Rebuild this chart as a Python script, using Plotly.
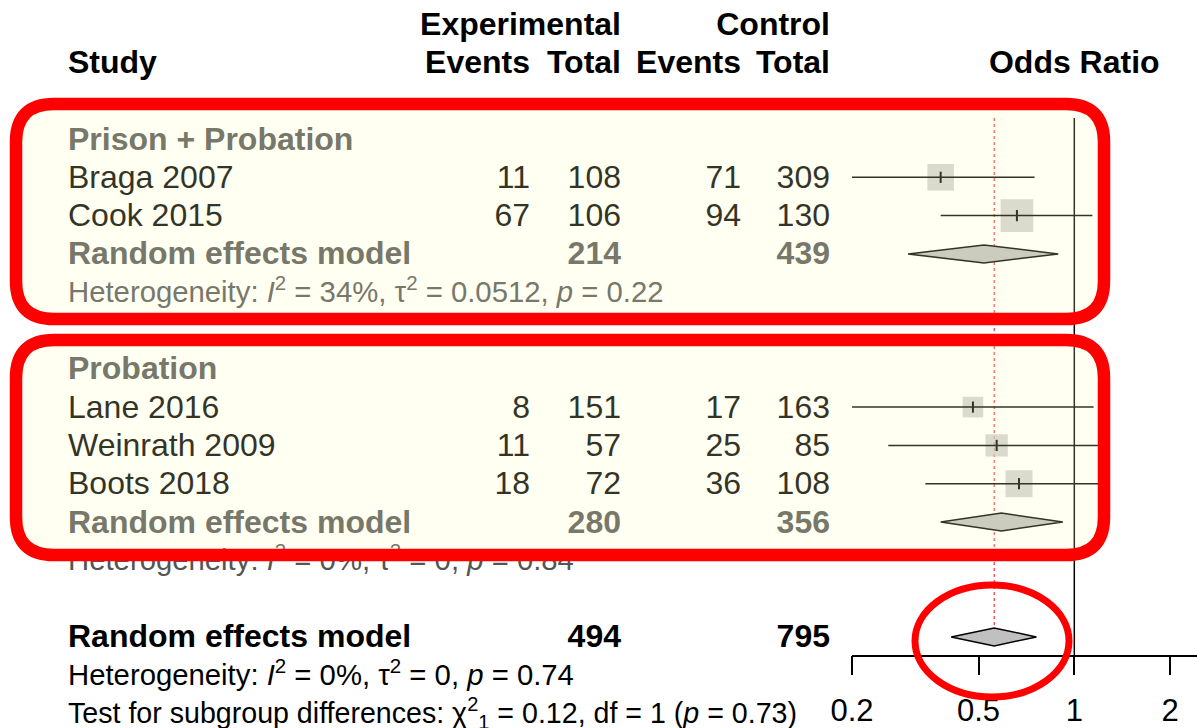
import math
import plotly.graph_objects as go

# ---------------- data ----------------
group_names = ["Prison + Probation", "Probation"]
studies = ["Braga 2007", "Cook 2015", "Lane 2016", "Weinrath 2009", "Boots 2018"]
study_group = [0, 0, 1, 1, 1]
exp_events = [11, 67, 8, 11, 18]
exp_total = [108, 106, 151, 57, 72]
ctrl_events = [71, 94, 17, 25, 36]
ctrl_total = [309, 130, 163, 85, 108]
or_est = [0.38, 0.66, 0.48, 0.57, 0.67]
or_low = [0.19, 0.38, 0.20, 0.26, 0.34]
or_high = [0.75, 1.14, 1.15, 1.28, 1.29]
weights = [20.6, 31.2, 12.4, 14.5, 21.3]

sub_est = [0.52, 0.59]
sub_low = [0.30, 0.38]
sub_high = [0.89, 0.92]
sub_het = [
    "Heterogeneity: <i>I</i><sup>2</sup> = 34%, τ<sup>2</sup> = 0.0512, <i>p</i> = 0.22",
    "Heterogeneity: <i>I</i><sup>2</sup> = 0%, τ<sup>2</sup> = 0, <i>p</i> = 0.84",
]
overall_est, overall_low, overall_high = 0.56, 0.41, 0.76
overall_het = "Heterogeneity: <i>I</i><sup>2</sup> = 0%, τ<sup>2</sup> = 0, <i>p</i> = 0.74"
subgroup_test = "Test for subgroup differences: χ<sup>2</sup><sub>1</sub> = 0.12, df = 1 (<i>p</i> = 0.73)"
model_label = "Random effects model"

tick_vals = [0.2, 0.5, 1, 2]
tick_text = ["0.2", "0.5", "1", "2"]

# ---------------- layout constants ----------------
W, H = 1197, 728
ROW0_PX, ROW_H = 139.0, 38.3
AXIS_PX = 655.7
X1_PX, PX_PER_DEC = 1074.3, 318.0
FONT = "Liberation Sans, Arial, Helvetica, sans-serif"
FS = 32
FS_STAT = 29.3
FS_TEST = 28.6
TXT_DY = 2.5 / ROW_H
GRAY_TXT = "#555555"
SQ_COL = "#BEBEBE"
DIAM_HALF = 9.0 / ROW_H

def px2row(p):
    return (p - ROW0_PX) / ROW_H

# ---------------- row assignment ----------------
study_rows, group_rows, sub_rows, het_rows = [], [], [], []
r = 0
for g in range(len(group_names)):
    group_rows.append(r); r += 1
    for i, sg in enumerate(study_group):
        if sg == g:
            study_rows.append(r); r += 1
    sub_rows.append(r); r += 1
    het_rows.append(r); r += 2
overall_row = r
overall_het_row = overall_row + 1
test_row = overall_row + 2
hdr1, hdr2 = -3, -2

fig = go.Figure()

# reference lines
top_row = px2row(118)
fig.add_trace(go.Scatter(x=[overall_est, overall_est], y=[top_row, overall_row - DIAM_HALF],
                         mode="lines", line=dict(color="#ff3030", width=1.2, dash="dot"),
                         xaxis="x", yaxis="y", hoverinfo="skip", showlegend=False))
fig.add_trace(go.Scatter(x=[1, 1], y=[top_row, px2row(AXIS_PX)], mode="lines",
                         line=dict(color="black", width=1.5),
                         xaxis="x", yaxis="y", hoverinfo="skip", showlegend=False))

# squares
sizes = [5.85 * math.sqrt(w) for w in weights]
fig.add_trace(go.Scatter(x=or_est, y=study_rows, mode="markers",
                         marker=dict(symbol="square", size=sizes, color=SQ_COL, line=dict(width=0)),
                         xaxis="x", yaxis="y", hoverinfo="skip", showlegend=False))
# CI lines
cx, cy = [], []
for lo, hi, rr in zip(or_low, or_high, study_rows):
    cx += [lo, hi, None]; cy += [rr, rr, None]
fig.add_trace(go.Scatter(x=cx, y=cy, mode="lines", line=dict(color="black", width=1.5),
                         xaxis="x", yaxis="y", hoverinfo="skip", showlegend=False))
# point ticks
fig.add_trace(go.Scatter(x=or_est, y=study_rows, mode="markers",
                         marker=dict(symbol="line-ns-open", size=8, color="black",
                                     line=dict(color="black", width=2)),
                         xaxis="x", yaxis="y", hoverinfo="skip", showlegend=False))

# diamonds
def diamond(est, lo, hi, row, fill):
    fig.add_trace(go.Scatter(x=[lo, est, hi, est, lo],
                             y=[row, row - DIAM_HALF, row, row + DIAM_HALF, row],
                             mode="lines", fill="toself", fillcolor=fill,
                             line=dict(color="black", width=1.5),
                             xaxis="x", yaxis="y", hoverinfo="skip", showlegend=False))

for g in range(len(group_names)):
    diamond(sub_est[g], sub_low[g], sub_high[g], sub_rows[g], SQ_COL)
diamond(overall_est, overall_low, overall_high, overall_row, "#C0C0C0")

# ---------------- text ----------------
def text_col(xs, ys, texts, colors, pos, xaxis="x2", size=FS):
    fig.add_trace(go.Scatter(x=xs, y=[y + TXT_DY for y in ys], text=texts, mode="text",
                             textposition=pos,
                             textfont=dict(family=FONT, size=size, color=colors),
                             xaxis=xaxis, yaxis="y", hoverinfo="skip", showlegend=False,
                             cliponaxis=False))

# study column
sx = 68
ys, ts, cs = [hdr2], ["<b>Study</b>"], ["black"]
for g in range(len(group_names)):
    ys.append(group_rows[g]); ts.append("<b>%s</b>" % group_names[g]); cs.append(GRAY_TXT)
    ys.append(sub_rows[g]); ts.append("<b>%s</b>" % model_label); cs.append(GRAY_TXT)
for s, rr in zip(studies, study_rows):
    ys.append(rr); ts.append(s); cs.append("black")
ys.append(overall_row); ts.append("<b>%s</b>" % model_label); cs.append("black")
text_col([sx] * len(ys), ys, ts, cs, "middle right")

# statistics lines (smaller font)
ys = list(het_rows) + [overall_het_row]
ts = list(sub_het) + [overall_het]
cs = [GRAY_TXT] * len(het_rows) + ["black"]
text_col([sx] * len(ys), ys, ts, cs, "middle right", size=FS_STAT)
text_col([sx], [test_row], [subgroup_test], ["black"], "middle right", size=FS_TEST)

# numeric columns (right aligned)
col_right = {"ee": 530, "et": 621, "ce": 741, "ct": 830}

def num_col(key, vals, hdr_lines, totals=None):
    ys, ts, cs = [], [], []
    for rr_, t in hdr_lines:
        ys.append(rr_); ts.append("<b>%s</b>" % t); cs.append("black")
    for v, rr in zip(vals, study_rows):
        ys.append(rr); ts.append(str(v)); cs.append("black")
    if totals is not None:
        for g in range(len(group_names)):
            tot = sum(v for v, sg in zip(totals, study_group) if sg == g)
            ys.append(sub_rows[g]); ts.append("<b>%d</b>" % tot); cs.append(GRAY_TXT)
        ys.append(overall_row); ts.append("<b>%d</b>" % sum(totals)); cs.append("black")
    text_col([col_right[key]] * len(ys), ys, ts, cs, "middle left")

num_col("ee", exp_events, [(hdr2, "Events")])
num_col("et", exp_total, [(hdr1, "Experimental"), (hdr2, "Total")], totals=exp_total)
num_col("ce", ctrl_events, [(hdr2, "Events")])
num_col("ct", ctrl_total, [(hdr1, "Control"), (hdr2, "Total")], totals=ctrl_total)

# Odds Ratio header centred on OR = 1
text_col([1], [hdr2], ["<b>Odds Ratio</b>"], ["black"], "middle center", xaxis="x")

# ---------------- highlight shapes ----------------
def rrect(x0, y0, x1, y1, rad):
    return (f"M {x0+rad},{y0} L {x1-rad},{y0} Q {x1},{y0} {x1},{y0+rad} "
            f"L {x1},{y1-rad} Q {x1},{y1} {x1-rad},{y1} L {x0+rad},{y1} "
            f"Q {x0},{y1} {x0},{y1-rad} L {x0},{y0+rad} Q {x0},{y0} {x0+rad},{y0} Z")

shapes = []
for (y0, y1) in [(104, 319), (340, 555)]:
    shapes.append(dict(type="path", path=rrect(16, y0, 1104, y1, 38), xref="x2", yref="y2",
                       line=dict(color="#ff0000", width=12.5),
                       fillcolor="rgba(255,255,190,0.2)", layer="above"))
shapes.append(dict(type="circle", x0=915, x1=1069, y0=585, y1=697, xref="x2", yref="y2",
                   line=dict(color="#ff0000", width=7), fillcolor="rgba(0,0,0,0)", layer="above"))

xlo = math.log10(tick_vals[0])
xhi = (W - X1_PX) / PX_PER_DEC
dom0 = (X1_PX + PX_PER_DEC * xlo) / W

fig.update_layout(
    template="none",
    width=W, height=H,
    margin=dict(l=0, r=0, t=0, b=0, pad=0, autoexpand=False),
    paper_bgcolor="white", plot_bgcolor="rgba(0,0,0,0)",
    showlegend=False,
    shapes=shapes,
    xaxis=dict(type="log", range=[xlo, xhi], domain=[dom0, 1], anchor="free",
               position=(H - AXIS_PX) / H, automargin=False,
               tickvals=tick_vals, ticktext=tick_text,
               showline=True, linecolor="black", linewidth=1.5,
               ticks="outside", ticklen=19, tickwidth=1.5, tickcolor="black",
               ticklabelstandoff=8,
               showgrid=False, zeroline=False,
               tickfont=dict(family=FONT, size=31, color="black")),
    xaxis2=dict(range=[0, W], domain=[0, 1], anchor="y", visible=False, automargin=False),
    yaxis=dict(range=[(H - ROW0_PX) / ROW_H, -ROW0_PX / ROW_H], domain=[0, 1],
               visible=False, anchor="x2", automargin=False),
    yaxis2=dict(range=[H, 0], domain=[0, 1], overlaying="y", anchor="x2", visible=False,
                automargin=False),
)

fig.write_html("out.html", config={"displayModeBar": False},
               post_script="document.body.style.margin='0';")
